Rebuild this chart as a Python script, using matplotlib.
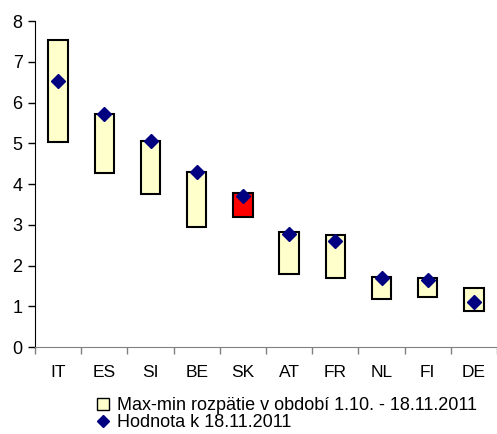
import matplotlib
matplotlib.use("Agg")
import matplotlib.pyplot as plt
from matplotlib.patches import Patch
from matplotlib.lines import Line2D

plt.rcParams['font.family'] = ['Liberation Sans', 'DejaVu Sans']

categories = ["IT", "ES", "SI", "BE", "SK", "AT", "FR", "NL", "FI", "DE"]
range_max = [7.53, 5.73, 5.05, 4.29, 3.79, 2.83, 2.74, 1.73, 1.69, 1.44]
range_min = [5.04, 4.26, 3.75, 2.95, 3.20, 1.80, 1.69, 1.18, 1.23, 0.89]
value = [6.52, 5.73, 5.05, 4.29, 3.71, 2.78, 2.61, 1.69, 1.64, 1.10]
bar_colors = ["#FFFFCC"] * 4 + ["#FF0000"] + ["#FFFFCC"] * 5

fig = plt.figure(figsize=(4.97, 4.34), dpi=100)
ax = fig.add_axes([35/497, 1-347/434, 1-35/497, (347-21)/434])

x = list(range(len(categories)))
heights = [a - b for a, b in zip(range_max, range_min)]
ax.bar(x, heights, bottom=range_min, width=0.42, color=bar_colors,
       edgecolor="black", linewidth=1.5, zorder=2)
ax.plot(x, value, linestyle="none", marker="D", markersize=7,
        color="#000080", zorder=3)

ax.set_xlim(-0.5, len(categories) - 0.5)
ax.set_ylim(0, 8)
ax.set_yticks(range(0, 9))
ax.tick_params(axis="y", labelsize=13, length=5, width=1, direction="out", pad=4)
ax.set_xticks([i + 0.5 for i in range(-1, len(categories))], minor=False)
ax.set_xticklabels([])
ax.set_xticks(x, minor=True)
ax.set_xticklabels(categories, minor=True)
ax.tick_params(axis="x", which="major", length=5, width=1, color="#808080")
ax.tick_params(axis="x", which="minor", length=0, labelsize=12.5, pad=13)
ax.spines["top"].set_visible(False)
ax.spines["right"].set_visible(False)
ax.spines["bottom"].set_color("#808080")
ax.spines["left"].set_color("black")

handles = [
    Patch(facecolor="#FFFFCC", edgecolor="black", linewidth=1),
    Line2D([], [], linestyle="none", marker="D", markersize=6, color="#000080"),
]
labels = ["Max-min rozpätie v období 1.10. - 18.11.2011", "Hodnota k 18.11.2011"]
fig.legend(handles, labels, loc="center", bbox_to_anchor=(287/497, 1-414/434),
           frameon=False, fontsize=13, handlelength=0.65, handleheight=0.65,
           handletextpad=0.45, labelspacing=0.0, borderpad=0)

fig.savefig("out.png", dpi=100)
